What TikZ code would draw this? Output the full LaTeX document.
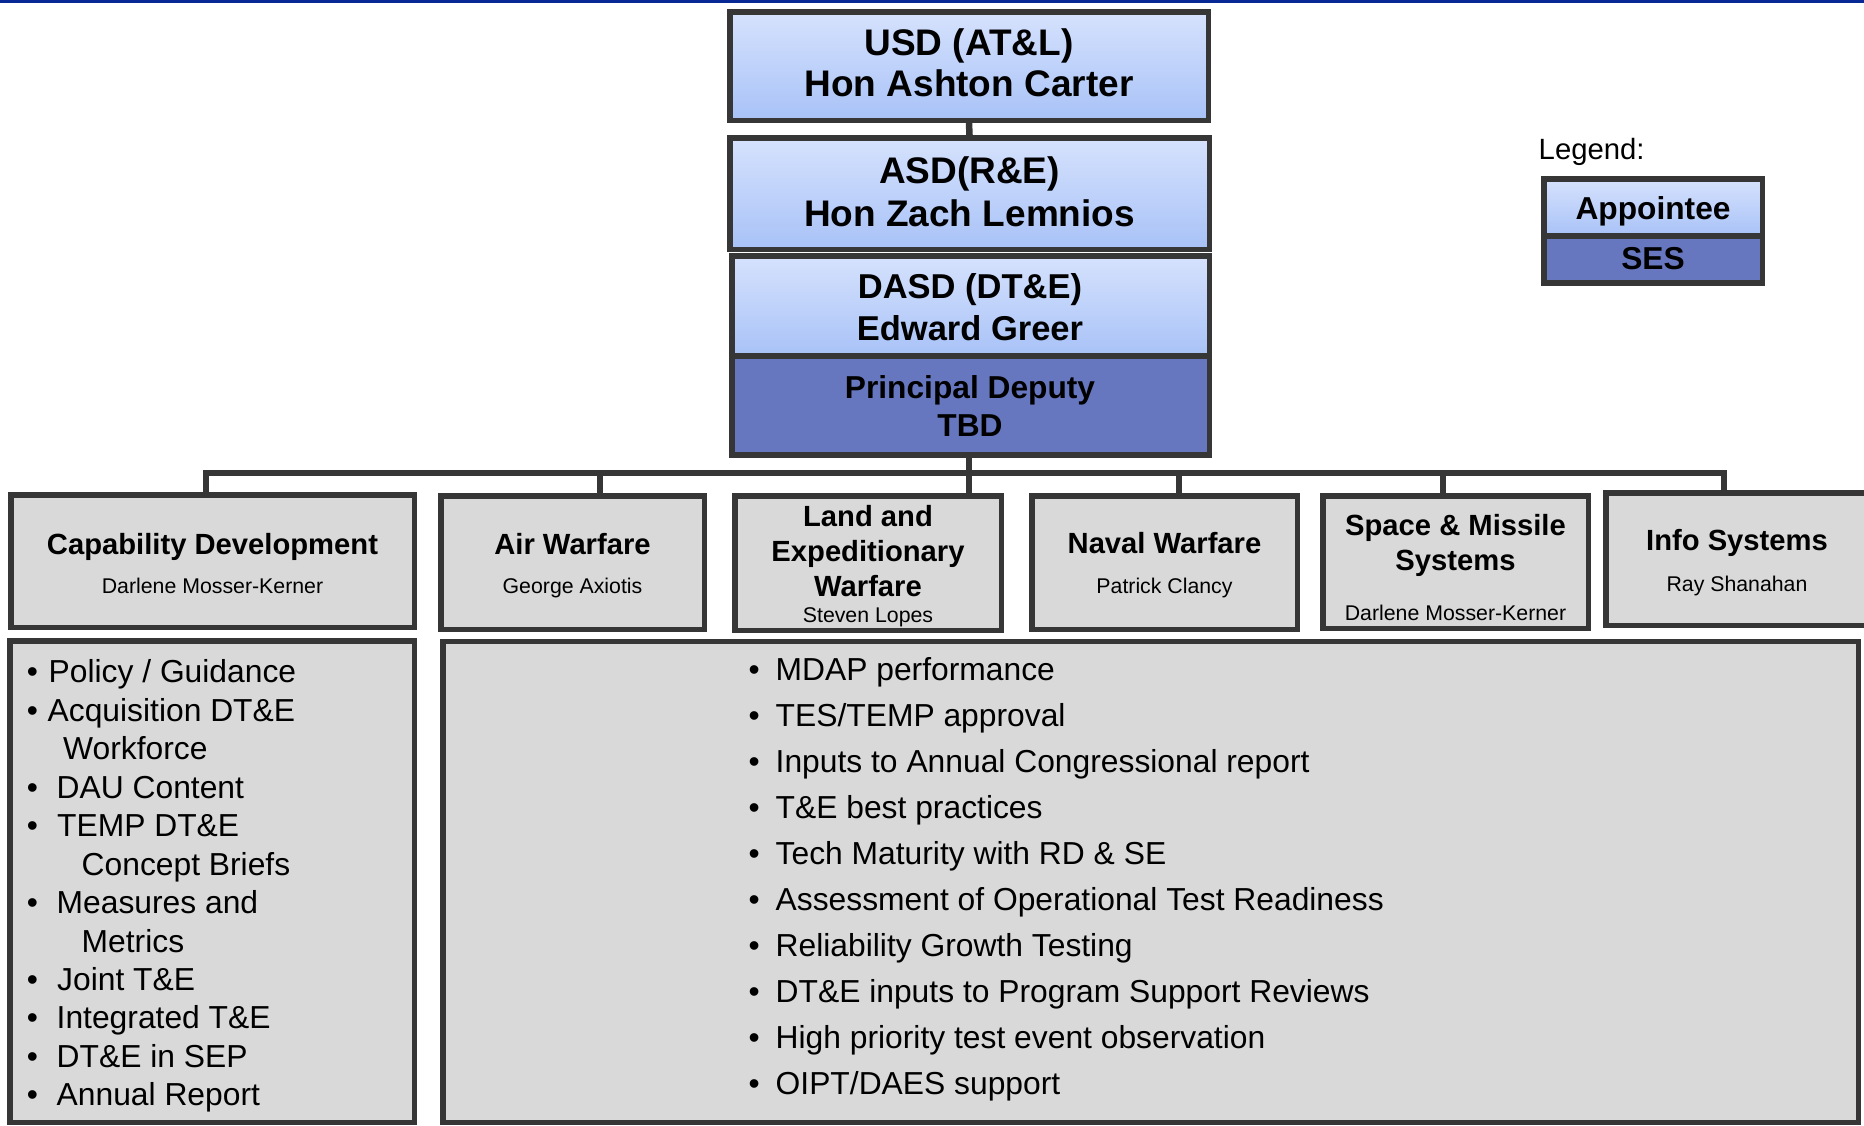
\documentclass[tikz,border=0pt]{standalone}
\usepackage{fontspec}
\setmainfont{Liberation Sans}
\definecolor{bord}{RGB}{54,54,54}
\definecolor{apptop}{RGB}{214,226,253}
\definecolor{appbot}{RGB}{168,194,247}
\definecolor{sesc}{RGB}{103,119,191}
\definecolor{greyf}{RGB}{217,217,217}
\definecolor{topblue}{RGB}{8,40,150}
\newcommand\fBig{\fontsize{37}{42}\selectfont\bfseries}
\newcommand\fMid{\fontsize{34.5}{40}\selectfont\bfseries}
\newcommand\fPD{\fontsize{31.7}{36}\selectfont\bfseries}
\newcommand\fTitle{\fontsize{29.2}{34}\selectfont\bfseries}
\newcommand\fName{\fontsize{21.3}{25}\selectfont}
\newcommand\fList{\fontsize{31.8}{36}\selectfont}
\newcommand\fLeg{\fontsize{29.3}{34}\selectfont}
\begin{document}
\begin{tikzpicture}[x=1pt,y=-1pt,
  box/.style={draw=bord, line width=5.5pt, inner sep=0pt, shape=rectangle},
  appt/.style={box, top color=apptop, bottom color=appbot},
  sesbox/.style={box, fill=sesc},
  greybox/.style={box, fill=greyf},
  conn/.style={draw=bord, line width=6.5pt, line join=miter},
  txt/.style={anchor=base, inner sep=0pt, text=black},
  ltxt/.style={anchor=base west, inner sep=0pt, text=black, font=\fList},
]
\useasboundingbox (0,0) rectangle (1864,1125);
\fill[white] (0,0) rectangle (1864,1125);
\fill[topblue] (0,0) rectangle (1864,2.7);

% top chain
\node[appt, minimum width=478.5pt, minimum height=108.5pt] (usd) at (969,66) {};
\node[appt, minimum width=479.5pt, minimum height=111.5pt] (asd) at (969.5,193.5) {};
\node[appt, minimum width=477.5pt, minimum height=100.25pt] (dasd) at (970.5,305.9) {};
\node[sesbox, minimum width=477.5pt, minimum height=99.25pt] (pd) at (970.5,405.6) {};

\draw[conn] (usd.south) -- (asd.north);

\node[txt, font=\fBig] (usd1) at (969,55) {USD (AT\&L)};
\node[txt, font=\fBig] (usd2) at (969,96.7) {Hon Ashton Carter};
\node[txt, font=\fBig] (asd1) at (969.5,183.3) {ASD(R\&E)};
\node[txt, font=\fBig] (asd2) at (969.5,226.7) {Hon Zach Lemnios};
\node[txt, font=\fMid] (dasd1) at (970,298.3) {DASD (DT\&E)};
\node[txt, font=\fMid] (dasd2) at (970,340) {Edward Greer};
\node[txt, font=\fPD] (pd1) at (970,398.3) {Principal Deputy};
\node[txt, font=\fPD] (pd2) at (970,436.7) {TBD};

% legend
\node[anchor=base west, inner sep=0pt, font=\fLeg] (legT) at (1538.5,159.3) {Legend:};
\node[appt, minimum width=218.5pt, minimum height=57.25pt] (legA) at (1653,207.4) {};
\node[sesbox, minimum width=218.5pt, minimum height=47.25pt] (legS) at (1653,259.6) {};
\node[txt, font=\fPD] (legA1) at (1653,219.3) {Appointee};
\node[txt, font=\fPD] (legS1) at (1653,269.3) {SES};

% children
\node[greybox, minimum width=403.5pt, minimum height=132.5pt] (cap) at (212.5,561) {};
\node[greybox, minimum width=263.5pt, minimum height=133.5pt] (air) at (572.5,562.5) {};
\node[greybox, minimum width=266.5pt, minimum height=134.5pt] (land) at (868,563) {};
\node[greybox, minimum width=265.5pt, minimum height=133.5pt] (naval) at (1164.5,562.5) {};
\node[greybox, minimum width=265.5pt, minimum height=132.5pt] (space) at (1455.5,562) {};
\node[greybox, minimum width=262.5pt, minimum height=132.5pt] (info) at (1737,559) {};

% connectors
\coordinate (jCap) at (206,473);
\coordinate (jAir) at (600,473);
\coordinate (jLand) at (969,473);
\coordinate (jNav) at (1179,473);
\coordinate (jSpace) at (1443,473);
\coordinate (jInfo) at (1724,473);
\draw[conn] (jCap |- cap.north) -- (jCap) -- (jInfo) -- (jInfo |- info.north);
\draw[conn] (jLand |- pd.south) -- (jLand |- land.north);
\draw[conn] (jAir) -- (jAir |- air.north);
\draw[conn] (jNav) -- (jNav |- naval.north);
\draw[conn] (jSpace) -- (jSpace |- space.north);

% child texts
\node[txt, font=\fTitle] (capT) at (212.5,554.3) {Capability Development};
\node[txt, font=\fName] (capN) at (212.5,593.5) {Darlene Mosser-Kerner};
\node[txt, font=\fTitle] (airT) at (572.5,554.8) {Air Warfare};
\node[txt, font=\fName] (airN) at (572.5,593.5) {George Axiotis};
\node[txt, font=\fTitle] (landT1) at (868,526.7) {Land and};
\node[txt, font=\fTitle] (landT2) at (868,561) {Expeditionary};
\node[txt, font=\fTitle] (landT3) at (868,596.5) {Warfare};
\node[txt, font=\fName] (landN) at (868,622) {Steven Lopes};
\node[txt, font=\fTitle] (navT) at (1164.5,553.5) {Naval Warfare};
\node[txt, font=\fName] (navN) at (1164.5,593.3) {Patrick Clancy};
\node[txt, font=\fTitle] (spaT1) at (1455.5,535) {Space \& Missile};
\node[txt, font=\fTitle] (spaT2) at (1455.5,570) {Systems};
\node[txt, font=\fName] (spaN) at (1455.5,620) {Darlene Mosser-Kerner};
\node[txt, font=\fTitle] (infT) at (1737,550) {Info Systems};
\node[txt, font=\fName] (infN) at (1737,591.7) {Ray Shanahan};

% bottom boxes
\node[greybox, minimum width=404.5pt, minimum height=481.5pt] (lbox) at (212,881.5) {};
\node[greybox, minimum width=1415.5pt, minimum height=481pt] (rbox) at (1150.5,881.75) {};

% left list
\node[ltxt] (b1) at (26.7,682.7) {•};
\node[ltxt] (l1) at (48.5,682.7) {Policy / Guidance};
\node[ltxt] (b2) at (26.7,721.7) {•};
\node[ltxt] (l2) at (47.5,721.7) {Acquisition DT\&E};
\node[ltxt] (l3) at (63,759.5) {Workforce};
\node[ltxt] (b4) at (26.7,798) {•};
\node[ltxt] (l4) at (56.5,798) {DAU Content};
\node[ltxt] (b5) at (26.7,836.5) {•};
\node[ltxt] (l5) at (57,836.5) {TEMP DT\&E};
\node[ltxt] (l6) at (81.5,875) {Concept Briefs};
\node[ltxt] (b7) at (26.7,913.5) {•};
\node[ltxt] (l7) at (56.5,913.5) {Measures and};
\node[ltxt] (l8) at (81.5,952) {Metrics};
\node[ltxt] (b9) at (26.7,990.5) {•};
\node[ltxt] (l9) at (57,990.5) {Joint T\&E};
\node[ltxt] (b10) at (26.7,1028.5) {•};
\node[ltxt] (l10) at (56.5,1028.5) {Integrated T\&E};
\node[ltxt] (b11) at (26.7,1067) {•};
\node[ltxt] (l11) at (56.5,1067) {DT\&E in SEP};
\node[ltxt] (b12) at (26.7,1105.5) {•};
\node[ltxt] (l12) at (56.5,1105.5) {Annual Report};

% right list
\foreach \t [count=\i] in {MDAP performance, TES/TEMP approval, Inputs to Annual Congressional report, T\&E best practices, Tech Maturity with RD \& SE, Assessment of Operational Test Readiness, Reliability Growth Testing, DT\&E inputs to Program Support Reviews, High priority test event observation, OIPT/DAES support}{
  \node[ltxt] (rb\i) at (748.4,{680+46*(\i-1)}) {•};
  \node[ltxt] (r\i) at (775.5,{680+46*(\i-1)}) {\t};
}
\end{tikzpicture}
\end{document}
